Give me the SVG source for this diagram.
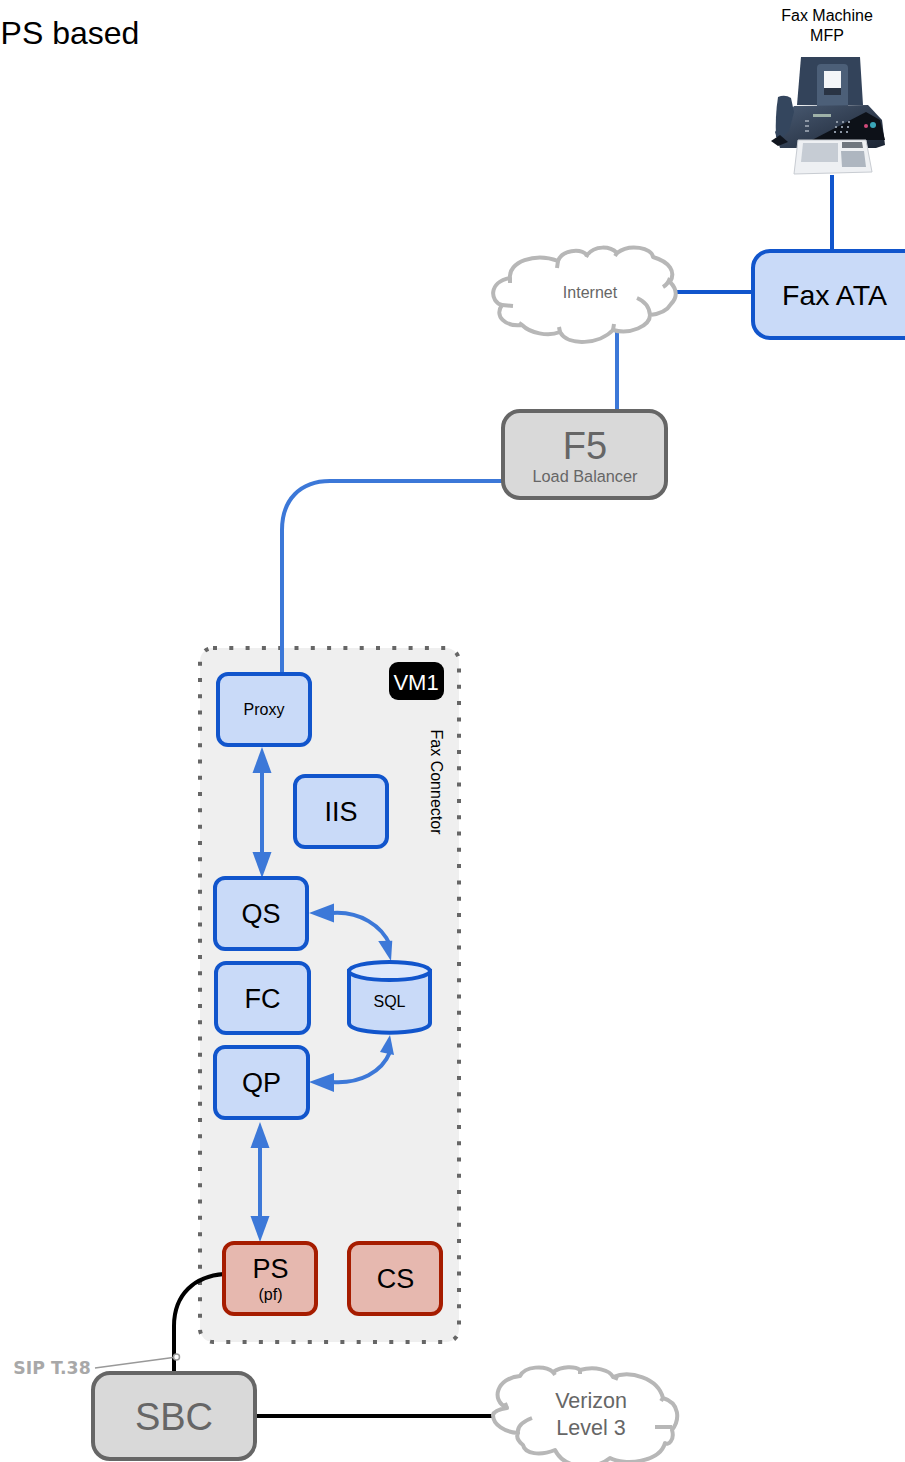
<svg xmlns="http://www.w3.org/2000/svg" width="905" height="1462" viewBox="0 0 905 1462">
<defs>
<linearGradient id="fx" x1="0" y1="0" x2="1" y2="1"><stop offset="0" stop-color="#4a5b73"/><stop offset="1" stop-color="#1b2433"/></linearGradient>
</defs>
<style>
text{font-family:"Liberation Sans",Arial,sans-serif;text-anchor:middle;fill:#000}
.b{fill:#c9daf8;stroke:#1155cc;stroke-width:4}
.r{fill:#e6b8af;stroke:#a61c00;stroke-width:4}
.g{fill:#d9d9d9;stroke:#666;stroke-width:4}
.cl{fill:#fff;stroke:#b7b7b7;stroke-width:4;stroke-linejoin:round}
.cd{fill:none;stroke:#b7b7b7;stroke-width:4}
.l1{fill:none;stroke:#3c78d8;stroke-width:4}
.l2{fill:none;stroke:#1155cc;stroke-width:4}
.l3{fill:none;stroke:#000;stroke-width:4}
.ah{fill:#3c78d8;stroke:none}
.gt{fill:#666}
</style>

<text x="70" y="44" font-size="32">PS based</text>

<g id="vm1-frame">
<rect x="200" y="648" width="259" height="694" rx="13" fill="#efefef"/>
<rect x="200" y="648" width="259" height="694" rx="13" fill="none" stroke="#666" stroke-width="4" stroke-dasharray="4 12.300"/>
</g>

<g id="connectors">
<path class="l2" d="M832 175V250"/>
<path class="l2" d="M675 292H752"/>
<path class="l1" d="M617 332V411"/>
<path class="l1" d="M503 481H330C300 481 282 500 282 530V674"/>
<path class="l1" d="M262 770V855"/>
<polygon class="ah" points="262,747 271.500,773 252.500,773"/>
<polygon class="ah" points="262,878 271.500,852 252.500,852"/>
<path class="l1" d="M332 913C360 911 382 926 390 945"/>
<polygon class="ah" points="309,913 334,903.500 334,922.500"/>
<polygon class="ah" points="390,961 379,940 393,941" transform="rotate(-5 390 961) translate(1 0)"/>
<path class="l1" d="M332 1082C360 1084 382 1072 390 1052"/>
<polygon class="ah" points="309,1082 334,1073 334,1092"/>
<polygon class="ah" points="390,1035 394,1055 380,1052"/>
<path class="l1" d="M260 1145V1220"/>
<polygon class="ah" points="260,1122 269.500,1148 250.500,1148"/>
<polygon class="ah" points="260,1242 269.500,1216 250.500,1216"/>
<path class="l3" d="M224 1274C195 1276 174 1294 174 1326V1373"/>
<path class="l3" d="M255 1416H494"/>
</g>

<g id="fax-machine">
<text x="827" y="21" font-size="16">Fax Machine</text>
<text x="827" y="41" font-size="16">MFP</text>
<g>
<path d="M801 57H860L863 105H797Z" fill="#33435a"/>
<path d="M817 68Q817 64 821 64H844Q848 64 848 68V106H817Z" fill="#4c5f78"/>
<rect x="824" y="71" width="17" height="24" fill="#f4f6f8"/>
<rect x="824" y="88" width="17" height="7" fill="#2a3444"/>
<path d="M794 106L868 105L882 120L885 145L876 148H780L775 132Z" fill="url(#fx)"/>
<path d="M778 97Q785 94 791 98L794 112L789 131L783 137H776Q775 116 778 97Z" fill="#34465e"/>
<path d="M771 141L780 135L788 142L778 146Z" fill="#11161f"/>
<path d="M812 140L866 112L880 120L885 140Z" fill="#0d1118"/>
<rect x="813" y="114" width="18" height="3" fill="#9fb2a8"/>
<circle cx="873" cy="125" r="3" fill="#3aa6b8"/>
<circle cx="866" cy="126" r="2" fill="#d14a7a"/>
<g fill="#8b95a3">
<rect x="836" y="121" width="2" height="2"/><rect x="842" y="121" width="2" height="2"/><rect x="848" y="121" width="2" height="2"/>
<rect x="835" y="126" width="2" height="2"/><rect x="841" y="126" width="2" height="2"/><rect x="847" y="126" width="2" height="2"/>
<rect x="834" y="131" width="2" height="2"/><rect x="840" y="131" width="2" height="2"/><rect x="846" y="131" width="2" height="2"/>
<rect x="805" y="120" width="4" height="2"/><rect x="805" y="125" width="4" height="2"/><rect x="805" y="130" width="4" height="2"/>
</g>
<path d="M798 140H866L872 172L794 174Z" fill="#eef0f3" stroke="#c8ccd2" stroke-width="1"/>
<path d="M803 143H838L838 162H801Z" fill="#c6ccd4"/>
<path d="M841 151H864L866 167H842Z" fill="#aeb6c0"/>
<path d="M842 142H862L863 148H842Z" fill="#70777f"/>
</g>
</g>

<g id="fax-ata">
<rect class="b" x="753" y="251" width="170" height="87" rx="17"/>
<text x="834.500" y="305" font-size="28.500">Fax ATA</text>
</g>

<g id="internet">
<path class="cl" d="M510 278C508 262 535 252 558 261C562 250 580 248 587 255C595 245 610 246 617 253C630 243 652 248 653 257C670 262 676 272 670 282C678 290 677 298 671 304C667 311 659 314 650 315C650 326 630 335 613 330C600 344 568 347 560 332C548 337 530 333 522 325C505 327 494 316 502 305C490 302 488 282 510 278Z"/>
<path class="cd" d="M513 306L502 305M510 278L510 283M558 261L557 268M587 255L586 257M617 253L615 256M663 287Q668 284 670 278M637 298Q649 303 650 315M613 330L614 324M560 332L559 327M522 325L519 323"/>
<text class="gt" x="590" y="298" font-size="16">Internet</text>
</g>

<g id="f5">
<rect class="g" x="503" y="411" width="163" height="87" rx="17"/>
<text class="gt" x="585" y="459" font-size="38">F5</text>
<text class="gt" x="585" y="482" font-size="16.300">Load Balancer</text>
</g>

<g id="vm1-label">
<rect x="389" y="662" width="55" height="38" rx="9" fill="#000"/>
<text x="416" y="690" font-size="22" style="fill:#fff">VM1</text>
</g>
<g id="fax-connector">
<text x="0" y="0" font-size="16" transform="translate(431 782) rotate(90)">Fax Connector</text>
</g>

<g id="proxy"><rect class="b" x="218" y="674" width="92" height="71" rx="10"/><text x="264" y="715" font-size="16">Proxy</text></g>
<g id="iis"><rect class="b" x="295" y="776" width="92" height="71" rx="10"/><text x="341" y="821" font-size="27">IIS</text></g>
<g id="qs"><rect class="b" x="215" y="878" width="92" height="71" rx="10"/><text x="261" y="923" font-size="27">QS</text></g>
<g id="fc"><rect class="b" x="216" y="963" width="93" height="70" rx="10"/><text x="262.500" y="1008" font-size="27">FC</text></g>
<g id="qp"><rect class="b" x="215" y="1047" width="93" height="71" rx="10"/><text x="261.500" y="1092" font-size="27">QP</text></g>
<g id="sql">
<path class="b" d="M349 971V1023C349 1036 430 1036 430 1023V971Z"/>
<ellipse cx="389.500" cy="971" rx="40.500" ry="9" fill="#dde8fb" stroke="#1155cc" stroke-width="4"/>
<text x="389.500" y="1007" font-size="16">SQL</text>
</g>
<g id="ps"><rect class="r" x="224" y="1243" width="92" height="71" rx="10"/><text x="270.500" y="1278" font-size="27">PS</text><text x="270.500" y="1300" font-size="16">(pf)</text></g>
<g id="cs"><rect class="r" x="349" y="1243" width="92" height="71" rx="10"/><text x="395.500" y="1288" font-size="27">CS</text></g>

<g id="sbc">
<rect class="g" x="93" y="1373" width="162" height="86" rx="17"/>
<text class="gt" x="174" y="1430" font-size="38">SBC</text>
</g>

<g id="sip-label">
<path d="M95 1368L173 1357.500" stroke="#999" stroke-width="1.500" fill="none"/>
<circle cx="176.500" cy="1357" r="3" fill="#fff" stroke="#999" stroke-width="1.500"/>
<text x="52" y="1374" font-size="17.300" font-weight="700" style="font-family:'DejaVu Sans',sans-serif;fill:#a8a8a8">SIP T.38</text>
</g>

<g id="verizon">
<path class="cl" d="M507 1408C490 1400 497 1378 520 1376C525 1366 545 1365 553 1372C562 1366 575 1366 580 1370C595 1366 610 1370 613 1377C630 1370 658 1378 663 1398C680 1403 680 1420 672 1430C675 1440 668 1446 665 1443C660 1462 625 1466 610 1458C595 1470 565 1470 555 1450C540 1456 525 1454 523 1445C518 1441 516 1437 518 1433C505 1432 493 1425 493 1415C494 1411 500 1409 507 1408Z"/>
<path class="cd" d="M507 1408L505 1403M532 1418Q516 1424 518 1434M655 1427H672M663 1398L661 1401M613 1377L618 1379M580 1370L580 1374M553 1372L555 1375"/>
<text class="gt" x="591" y="1408" font-size="21.500">Verizon</text>
<text class="gt" x="591" y="1435" font-size="21.500">Level 3</text>
</g>
</svg>
